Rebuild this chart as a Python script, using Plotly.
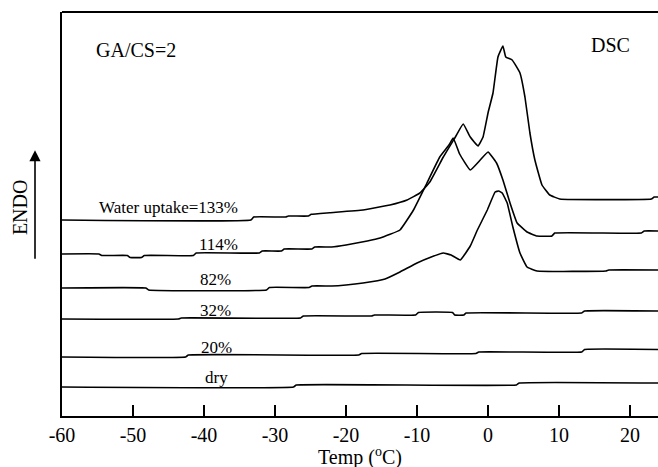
import plotly.graph_objects as go

# Temperature (°C) and heat flow (arbitrary units, offset curves)
t_dry = [-60, -27.4, -27.0, 4.0, 4.4, 24]
h_dry = [29, 29, 31, 31, 33, 33]

t_20 = [-60, -42.6, -42.2, -18.2, -17.8, -1.7, -1.3, 13.2, 13.6, 24]
h_20 = [59, 59, 61, 61, 62.5, 62.5, 64, 64, 66.5, 66.5]

t_32 = [-60, -43.6, -43.2, -26.4, -26.0, -16.4, -16.0, -10.2, -9.8, -5.0, -4.7, -3.4, -3.1, 13.2, 13.6, 24]
h_32 = [97, 97, 98, 98, 100, 100, 101, 101, 103.5, 103.5, 101, 101, 103, 103, 105, 105]

t_82 = [-60, -48.2, -47.8, -31.2, -30.8, -25.2, -24.8, -22, -20, -17.6, -14.5, -12.4, -10, -8, -6.3,
        -5.2, -3.9, -2.5, -1.5, -0.1, 1.0, 1.5, 2.0, 2.7, 3.5, 4.5, 5.5, 6.9, 16.6, 17.0, 24]
h_82 = [128, 128, 126, 126, 128.5, 128.5, 130, 130, 131, 133, 137, 144, 153, 159, 163,
        161, 156, 170, 186, 206, 224, 225, 223, 213, 189, 163, 149, 145, 145, 146, 146]

t_114 = [-60, -54.8, -54.4, -50.8, -50.4, -48.8, -48.4, -41.5, -41.1, -32.2, -31.8, -29.1, -28.7,
         -24.8, -24.4, -22, -20, -17, -15.2, -12.4, -10.5, -8.6, -6.8, -5.5, -4.9, -4.0, -2.5,
         -1.1, 0.0, 1.2, 2.1, 3.1, 4.1, 5.5, 6.9, 9.0, 9.4, 21.6, 22.0, 24]
h_114 = [162, 162, 160.5, 160.5, 158.5, 158.5, 160.5, 160.5, 163, 163, 165, 165, 167,
         167, 169, 169, 171, 175, 178, 186, 206, 233, 259, 271, 278, 262, 246,
         256, 264, 253, 236, 213, 193, 184, 180, 180, 183, 183, 185, 185]

t_133 = [-60, -33.4, -33.0, -28.5, -28.1, -25.3, -24.9, -22.3, -17.6, -13.8, -11.4, -9.6, -8.2,
         -6.3, -4.6, -3.5, -2.5, -1.4, -0.7, 0.0, 0.7, 1.4, 2.1, 2.5, 3.4, 4.5, 5.2, 5.9, 6.6,
         7.6, 8.7, 10.1, 23.0, 23.4, 24]
h_133 = [196, 196, 199, 199, 200, 200, 201.7, 203.3, 206, 211, 216, 223, 234,
         259, 279, 292, 279, 270, 279, 303, 323, 359, 370, 359, 356, 343, 319, 283, 256,
         231, 221, 217, 217, 219, 219]

curves = [(t_dry, h_dry), (t_20, h_20), (t_32, h_32), (t_82, h_82), (t_114, h_114), (t_133, h_133)]

labels = ["dry", "20%", "32%", "82%", "114%", "Water uptake=133%"]
label_x = [-38.3, -38.2, -38.45, -38.45, -38.0, -45.0]
label_y = [39, 69, 106, 137, 172, 209]

tick_vals = [-60, -50, -40, -30, -20, -10, 0, 10, 20]
tick_text = ["-60", "-50", "-40", "-30", "-20", "-10", "0", "10", "20"]

FONT = "Liberation Serif, Times New Roman, serif"

fig = go.Figure()
for t, h in curves:
    fig.add_trace(go.Scatter(x=t, y=h, mode="lines",
                             line=dict(color="black", width=1.6, shape="spline", smoothing=0.3),
                             showlegend=False, hoverinfo="skip"))

ann = []
for txt, x, y in zip(labels, label_x, label_y):
    ann.append(dict(x=x, y=y, xref="x", yref="y", text=txt, showarrow=False,
                    font=dict(family=FONT, size=17, color="black"),
                    xanchor="center", yanchor="middle"))
ann.append(dict(x=-49.6, y=366, xref="x", yref="y", text="GA/CS=2", showarrow=False,
                font=dict(family=FONT, size=20, color="black"), xanchor="center", yanchor="middle"))
ann.append(dict(x=17.3, y=371, xref="x", yref="y", text="DSC", showarrow=False,
                font=dict(family=FONT, size=20, color="black"), xanchor="center", yanchor="middle"))
ann.append(dict(x=0.5, y=-0.1007, xref="paper", yref="paper", text="Temp (<sup>o</sup>C)",
                showarrow=False, font=dict(family=FONT, size=20, color="black"),
                xanchor="center", yanchor="middle"))
ann.append(dict(x=-0.0705, y=0.517, xref="paper", yref="paper", text="ENDO", textangle=-90,
                showarrow=False, font=dict(family=FONT, size=20, color="black"),
                xanchor="center", yanchor="middle"))
ann.append(dict(x=-0.0453, y=0.658, xref="paper", yref="paper", text="", showarrow=True,
                ax=0, ay=110, arrowhead=2, arrowsize=1.4, arrowwidth=1.6, arrowcolor="black"))

fig.update_layout(
    width=658, height=467,
    margin=dict(l=62, r=0, t=12, b=51),
    plot_bgcolor="white", paper_bgcolor="white",
    annotations=ann,
    shapes=[dict(type="line", xref="paper", yref="paper", x0=0, x1=1, y0=1, y1=1,
                 line=dict(color="black", width=2))],
    xaxis=dict(range=[-60, 23.94], tickvals=tick_vals, ticktext=tick_text,
               ticks="inside", ticklen=11, tickwidth=1.6, tickcolor="black",
               showline=True, linecolor="black", linewidth=2, showgrid=False, zeroline=False,
               tickfont=dict(family=FONT, size=20, color="black")),
    yaxis=dict(range=[0, 404], showline=True, linecolor="black", linewidth=2,
               showgrid=False, zeroline=False, showticklabels=False, ticks=""),
)

fig.write_html("out.html")
